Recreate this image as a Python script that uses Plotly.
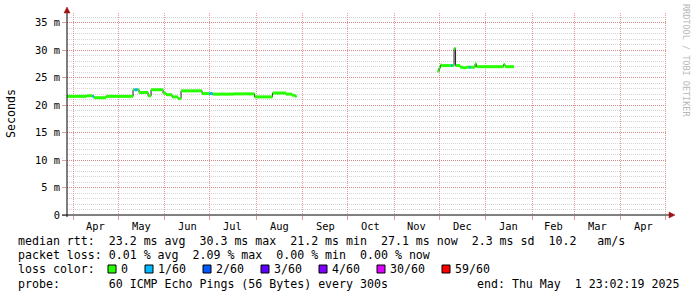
import plotly.graph_objects as go
from datetime import datetime, timedelta

# ---------------- data ----------------
# segment A (spring/summer 2024): sample start date, median rtt (ms), loss index
dates_a = ["2024-03-28", "2024-04-10", "2024-04-14", "2024-04-15", "2024-04-23",
           "2024-05-11", "2024-05-12", "2024-05-14", "2024-05-15", "2024-05-21",
           "2024-05-23", "2024-05-31", "2024-06-02", "2024-06-06", "2024-06-10",
           "2024-06-12", "2024-06-26", "2024-07-01", "2024-07-03", "2024-07-17",
           "2024-07-31", "2024-08-12", "2024-08-21", "2024-08-25", "2024-08-27"]
rtt_a = [21.6, 21.7, 21.6, 21.35, 21.6,
         22.8, 22.8, 22.8, 22.3, 21.7,
         22.8, 22.2, 21.9, 21.5, 21.2,
         22.6, 22.1, 22.1, 22.0, 22.05,
         21.5, 22.2, 22.0, 21.8, 21.6]
loss_a = [0, 0, 1, 0, 0,
          0, 1, 0, 0, 0,
          0, 0, 0, 0, 0,
          0, 0, 1, 0, 0,
          0, 0, 0, 0, 0]
end_a = "2024-08-28"

# segment B (winter 2024/25)
dates_b = ["2024-11-30", "2024-12-01", "2024-12-02", "2024-12-03", "2024-12-09",
           "2024-12-10", "2024-12-11", "2024-12-12", "2024-12-15", "2024-12-17",
           "2024-12-19", "2024-12-21", "2024-12-22", "2024-12-25", "2024-12-26",
           "2025-01-13", "2025-01-14"]
rtt_b = [26.2, 26.8, 27.3, 27.2, 27.2,
         27.2, 30.3, 27.2, 26.9, 26.8,
         26.9, 26.9, 26.9, 27.5, 27.0,
         27.4, 27.0]
loss_b = [0, 0, 0, 0, 1,
          0, 0, 0, 0, 0,
          0, 1, 0, 0, 0,
          0, 0]
end_b = "2025-01-20"

loss_labels = ["0", "1/60", "2/60", "3/60", "4/60", "30/60", "59/60"]
loss_colors = ["#26ff00", "#00b8ff", "#0059ff", "#5e00ff", "#7e00ff", "#dd00ff", "#ff0000"]

y_ticks = [0, 5, 10, 15, 20, 25, 30, 35]
y_ticktext = ["0", "5 m", "10 m", "15 m", "20 m", "25 m", "30 m", "35 m"]

month_starts = ["2024-04-01", "2024-05-01", "2024-06-01", "2024-07-01", "2024-08-01",
                "2024-09-01", "2024-10-01", "2024-11-01", "2024-12-01", "2025-01-01",
                "2025-02-01", "2025-03-01", "2025-04-01", "2025-05-01"]
month_names = ["Apr", "May", "Jun", "Jul", "Aug", "Sep", "Oct", "Nov", "Dec", "Jan",
               "Feb", "Mar", "Apr"]

legend_lines = [
    "median rtt:  23.2 ms avg  30.3 ms max  21.2 ms min  27.1 ms now  2.3 ms sd  10.2   am/s",
    "packet loss: 0.01 % avg  2.09 % max  0.00 % min  0.00 % now",
]
probe_text = "probe:       60 ICMP Echo Pings (56 Bytes) every 300s"
end_text = "end: Thu May  1 23:02:19 2025"

x_start = "2024-03-27 23:02:19"
x_end = "2025-05-01 23:02:19"
y_max = 36.77

# ---------------- geometry helpers (pixel -> paper) ----------------
W, H = 697, 297
PL, PR, PT, PB = 67, 667, 13, 215


def px(x):
    return (x - PL) / (PR - PL)


def py(y):
    return (PB - y) / (PB - PT)


MONO = "DejaVu Sans Mono"

fig = go.Figure()

# black median step line
mx, my = [], []
for dts, vals, end in [(dates_a, rtt_a, end_a), (dates_b, rtt_b, end_b)]:
    mx += dts + [end, None]
    my += vals + [vals[-1], None]
fig.add_trace(go.Scatter(x=mx, y=my, mode="lines", line=dict(color="#202020", width=1, shape="hv"),
                         hoverinfo="skip", showlegend=False, connectgaps=False))

# loss coloured bands (horizontal only)
for li, col in enumerate(loss_colors):
    bx, by = [], []
    for dts, vals, losses, end in [(dates_a, rtt_a, loss_a, end_a), (dates_b, rtt_b, loss_b, end_b)]:
        for i, v in enumerate(vals):
            if losses[i] != li:
                continue
            t1 = dts[i + 1] if i + 1 < len(dts) else end
            bx += [dts[i], t1, None]
            by += [v, v, None]
    if bx:
        fig.add_trace(go.Scatter(x=bx, y=by, mode="lines", line=dict(color=col, width=3),
                                 hoverinfo="skip", showlegend=False))

major_grid = "rgba(215,90,90,0.6)"
minor_grid = "rgba(160,160,160,0.45)"

fig.update_layout(
    width=W, height=H,
    margin=dict(l=PL, r=W - PR, t=PT, b=H - PB, autoexpand=False),
    paper_bgcolor="white", plot_bgcolor="white",
    showlegend=False,
    font=dict(family=MONO, color="#000"),
    xaxis=dict(range=[x_start, x_end], type="date", tickvals=month_starts, showticklabels=False,
               showgrid=True, gridcolor=major_grid, griddash="1px,1px", gridwidth=1,
               ticks="outside", ticklen=4, tickcolor=major_grid, zeroline=False, showline=False),
    yaxis=dict(range=[0, y_max], tickvals=y_ticks, ticktext=y_ticktext,
               showgrid=True, gridcolor=major_grid, griddash="1px,1px", gridwidth=1,
               ticks="outside", ticklen=4, tickcolor=major_grid,
               tickfont=dict(family=MONO, size=10.4, color="#000"),
               minor=dict(dtick=1, showgrid=True, gridcolor=minor_grid, griddash="1px,1px"),
               zeroline=False, showline=False),
)

shapes = []
axis_col = "#000000"
arrow_col = "#a01010"
# axis lines
shapes.append(dict(type="line", xref="paper", yref="paper", x0=px(62), x1=px(670), y0=py(215), y1=py(215),
                   line=dict(color=axis_col, width=1)))
shapes.append(dict(type="line", xref="paper", yref="paper", x0=px(67), x1=px(67), y0=py(217), y1=py(10),
                   line=dict(color=axis_col, width=1)))
# arrows
shapes.append(dict(type="path", xref="paper", yref="paper",
                   path=f"M {px(64)} {py(13)} L {px(67)} {py(7)} L {px(70)} {py(13)} Z",
                   fillcolor=arrow_col, line=dict(color=arrow_col, width=0.5)))
shapes.append(dict(type="path", xref="paper", yref="paper",
                   path=f"M {px(669)} {py(212)} L {px(675)} {py(215)} L {px(669)} {py(218)} Z",
                   fillcolor=arrow_col, line=dict(color=arrow_col, width=0.5)))

ann = []
# month labels at mid month
for i, name in enumerate(month_names):
    a = datetime.fromisoformat(month_starts[i])
    b = datetime.fromisoformat(month_starts[i + 1])
    mid = a + (b - a) / 2
    ann.append(dict(x=mid.strftime("%Y-%m-%d %H:%M"), xref="x", y=py(225.5), yref="paper",
                    text=name, showarrow=False, xanchor="center", yanchor="middle",
                    font=dict(family=MONO, size=10.4, color="#000")))

# y axis title
ann.append(dict(x=px(11), y=py(114), xref="paper", yref="paper", text="Seconds", textangle=-90,
                showarrow=False, xanchor="center", yanchor="middle",
                font=dict(family=MONO, size=11.6, color="#000")))
# watermark
ann.append(dict(x=px(686), y=py(60), xref="paper", yref="paper", text="RRDTOOL / TOBI OETIKER",
                textangle=90, showarrow=False, xanchor="center", yanchor="middle",
                font=dict(family=MONO, size=8.5, color="#b8b8b8")))


def nb(s):
    return s.replace(" ", "\u00a0")


FS = 11.6
line_y = [241, 255, 269, 283.5]
for t, yy in zip(legend_lines, line_y[:2]):
    ann.append(dict(x=px(16), y=py(yy), xref="paper", yref="paper", text=nb(t), showarrow=False,
                    xanchor="left", yanchor="middle", font=dict(family=MONO, size=FS, color="#000")))
ann.append(dict(x=px(16), y=py(line_y[2]), xref="paper", yref="paper", text=nb("loss color:"),
                showarrow=False, xanchor="left", yanchor="middle",
                font=dict(family=MONO, size=FS, color="#000")))
lx = 119
for lab, col in zip(loss_labels, loss_colors):
    shapes.append(dict(type="rect", xref="paper", yref="paper", x0=px(lx - 11), x1=px(lx - 3),
                       y0=py(line_y[2] + 4), y1=py(line_y[2] - 4), fillcolor=col,
                       line=dict(color="#000", width=1)))
    ann.append(dict(x=px(lx), y=py(line_y[2]), xref="paper", yref="paper", text=lab, showarrow=False,
                    xanchor="left", yanchor="middle", font=dict(family=MONO, size=FS, color="#000")))
    lx += len(lab) * 7 + 30
ann.append(dict(x=px(16), y=py(line_y[3]), xref="paper", yref="paper", text=nb(probe_text),
                showarrow=False, xanchor="left", yanchor="middle",
                font=dict(family=MONO, size=FS, color="#000")))
ann.append(dict(x=px(681), y=py(line_y[3]), xref="paper", yref="paper", text=nb(end_text),
                showarrow=False, xanchor="right", yanchor="middle",
                font=dict(family=MONO, size=FS, color="#000")))

fig.update_layout(shapes=shapes, annotations=ann)
fig.write_html("out.html")
